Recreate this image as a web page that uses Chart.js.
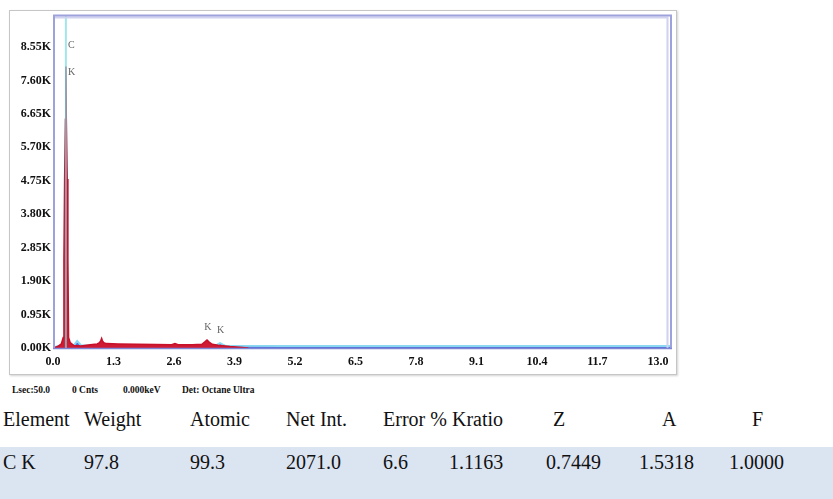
<!DOCTYPE html>
<html>
<head>
<meta charset="utf-8">
<script src="https://cdn.jsdelivr.net/npm/chart.js@4.4.1/dist/chart.umd.min.js"></script>
<style>
  html, body { margin: 0; padding: 0; background: #fff; }
  body { width: 833px; height: 499px; overflow: hidden; position: relative; font-family: "Liberation Serif", "Times New Roman", serif; }
  #frame { position: absolute; left: 9px; top: 10px; width: 666px; height: 363px; border: 1px solid #c6c6c6; box-shadow: 1px 1px 2px rgba(0,0,0,0.18); background: #fff; }
  #wrap { position: absolute; left: 0; top: 0; width: 833px; height: 380px; }
  .info { position: absolute; top: 383px; font: bold 11px "Liberation Serif", serif; color: #111; white-space: nowrap; transform-origin: left top; transform: scaleX(0.86); }
  #band { position: absolute; left: 0; top: 447px; width: 833px; height: 52px; background: #dbe4f1; }
  .cell { position: absolute; font: 20px "Liberation Serif", serif; color: #111; white-space: nowrap; line-height: 1; }
</style>
</head>
<body>
<div id="frame"></div>
<div id="wrap"><canvas id="spec" width="833" height="380"></canvas></div>
<div id="band"></div>
<div id="table"></div>
<script>
// EDS spectrum: energy in keV, intensity in counts
const redEnergy = [0, 0.10, 0.18, 0.22, 0.235, 0.25, 0.268, 0.277, 0.286, 0.305, 0.32, 0.335, 0.37, 0.45, 0.60, 0.80, 0.95, 1.00, 1.03, 1.045, 1.06, 1.09, 1.15, 1.40, 1.80, 2.20, 2.55, 2.62, 2.69, 3.00, 3.20, 3.27, 3.31, 3.35, 3.42, 3.55, 3.80, 4.20];
const redCounts = [0, 40, 120, 300, 2500, 4800, 6500, 8000, 6500, 4800, 2500, 300, 150, 70, 60, 90, 115, 150, 220, 270, 210, 150, 125, 115, 105, 100, 95, 125, 95, 90, 105, 180, 225, 175, 105, 75, 40, 0];

// Background / fitted continuum
const blueEnergy = [0, 0.10, 0.30, 0.45, 0.52, 0.60, 0.80, 2.00, 3.50, 3.55, 3.59, 3.64, 3.70, 5.00, 8.00, 11.00, 13.26];
const blueCounts = [0, 60, 70, 80, 200, 80, 70, 70, 65, 110, 140, 100, 65, 60, 55, 55, 55];

// Identified lines
const lineEnergies = [0.277, 3.313, 3.59];
const lineNames = ['C K', 'K', 'K'];
const lineHeights = [8000, 225, 140];

// Axis ticks
const yTickValues = [0, 950, 1900, 2850, 3800, 4750, 5700, 6650, 7600, 8550];
const xTickValues = [0, 1.3, 2.6, 3.9, 5.2, 6.5, 7.8, 9.1, 10.4, 11.7, 13.0];
const xMax = 13.26;
const yMax = 9460;

// Acquisition info and quantification table
const infoTexts = ['Lsec:50.0', '0 Cnts', '0.000keV', 'Det: Octane Ultra'];
const tableHeaders = ['Element', 'Weight', 'Atomic', 'Net Int.', 'Error %', 'Kratio', 'Z', 'A', 'F'];
const tableRow = ['C K', '97.8', '99.3', '2071.0', '6.6', '1.1163', '0.7449', '1.5318', '1.0000'];

// Layout of the text blocks
const infoX = [12, 72, 123, 182];
const headerX = [3, 84, 190, 286, 383, 452, 553, 662, 752];
const rowX = [3, 84, 190, 286, 383, 449, 546, 639, 729];

infoTexts.forEach((t, i) => {
  const s = document.createElement('div');
  s.className = 'info';
  s.style.left = infoX[i] + 'px';
  s.textContent = t;
  document.body.appendChild(s);
});
const table = document.getElementById('table');
tableHeaders.forEach((t, i) => {
  const s = document.createElement('div');
  s.className = 'cell';
  s.style.left = headerX[i] + 'px';
  s.style.top = '409px';
  s.textContent = t;
  table.appendChild(s);
});
tableRow.forEach((t, i) => {
  const s = document.createElement('div');
  s.className = 'cell';
  s.style.left = rowX[i] + 'px';
  s.style.top = '452px';
  s.textContent = t;
  table.appendChild(s);
});

const toPoints = (xs, ys) => xs.map((x, i) => ({ x, y: ys[i] }));

const plotFrame = {
  id: 'plotFrame',
  beforeDraw(chart) {
    const { ctx, chartArea: a } = chart;
    ctx.save();
    ctx.fillStyle = '#ffffff';
    ctx.fillRect(a.left, a.top, a.right - a.left, a.bottom - a.top);
    ctx.restore();
  },
  afterDatasetsDraw(chart) {
    const { ctx, chartArea: a, scales } = chart;
    ctx.save();
    // double lavender border around the plot
    ctx.strokeStyle = '#d0d2f0';
    ctx.lineWidth = 2;
    ctx.beginPath();
    ctx.moveTo(a.left, a.top + 2.5);
    ctx.lineTo(a.right - 2.5, a.top + 2.5);
    ctx.lineTo(a.right - 2.5, a.bottom);
    ctx.stroke();
    ctx.strokeStyle = '#9ea2dc';
    ctx.lineWidth = 2;
    ctx.beginPath();
    ctx.moveTo(a.left + 1, a.bottom);
    ctx.lineTo(a.left + 1, a.top + 0.5);
    ctx.lineTo(a.right + 1, a.top + 0.5);
    ctx.lineTo(a.right + 1, a.bottom + 1);
    ctx.stroke();
    ctx.strokeStyle = '#7f86d6';
    ctx.lineWidth = 1.5;
    ctx.beginPath();
    ctx.moveTo(a.left, a.bottom + 0.5);
    ctx.lineTo(a.right + 2, a.bottom + 0.5);
    ctx.stroke();

    // element labels
    const xs = scales.x, ys = scales.y;
    ctx.fillStyle = '#666666';
    ctx.font = '10px "Liberation Serif", serif';
    ctx.textAlign = 'left';
    ctx.textBaseline = 'middle';
    lineNames.forEach((name, i) => {
      const px = xs.getPixelForValue(lineEnergies[i]);
      const parts = name.split(' ');
      if (parts.length === 2) {
        ctx.fillText(parts[0], px + 2, a.top + 30);
        ctx.fillText(parts[1], px + 2, a.top + 57);
      } else {
        ctx.fillText(name, px - 3, ys.getPixelForValue(lineHeights[i]) - 13);
      }
    });
    ctx.restore();
  }
};

new Chart(document.getElementById('spec'), {
  type: 'scatter',
  data: {
    datasets: [
      {
        label: 'C K marker',
        data: [{ x: lineEnergies[0], y: 0 }, { x: lineEnergies[0], y: yMax }],
        showLine: true,
        borderColor: 'rgba(120, 220, 228, 0.7)',
        borderWidth: 2,
        pointRadius: 0,
        fill: false,
        order: 0
      },
      {
        label: 'Spectrum',
        data: toPoints(redEnergy, redCounts),
        showLine: true,
        borderColor: '#c8102a',
        backgroundColor: '#cf1b33',
        borderWidth: 1.5,
        pointRadius: 0,
        fill: 'origin',
        order: 1
      },
      {
        label: 'Background',
        data: toPoints(blueEnergy, blueCounts),
        showLine: true,
        borderColor: '#8ad8f2',
        backgroundColor: '#5570d8',
        borderWidth: 2,
        pointRadius: 0,
        fill: 'origin',
        order: 2
      }
    ]
  },
  options: {
    responsive: false,
    animation: false,
    layout: { padding: { left: 0, top: 15, right: 163, bottom: 0 } },
    plugins: { legend: { display: false }, tooltip: { enabled: false } },
    scales: {
      x: {
        type: 'linear',
        min: 0,
        max: xMax,
        grid: { display: false, drawTicks: false },
        border: { display: false },
        afterBuildTicks: s => { s.ticks = xTickValues.map(v => ({ value: v })); },
        afterFit: s => { s.height = 32; },
        ticks: {
          padding: 7,
          maxRotation: 0,
          autoSkip: false,
          color: '#111',
          font: { family: '"Liberation Serif", serif', size: 12, weight: 'bold' },
          callback: v => Number(v).toFixed(1)
        }
      },
      y: {
        type: 'linear',
        min: 0,
        max: yMax,
        grid: { display: false, drawTicks: false },
        border: { display: false },
        afterBuildTicks: s => { s.ticks = yTickValues.map(v => ({ value: v })); },
        afterFit: s => { s.width = 53; },
        ticks: {
          padding: 2,
          autoSkip: false,
          color: '#111',
          font: { family: '"Liberation Serif", serif', size: 12, weight: 'bold' },
          callback: v => (v / 1000).toFixed(2) + 'K'
        }
      }
    }
  },
  plugins: [plotFrame]
});
</script>
</body>
</html>
